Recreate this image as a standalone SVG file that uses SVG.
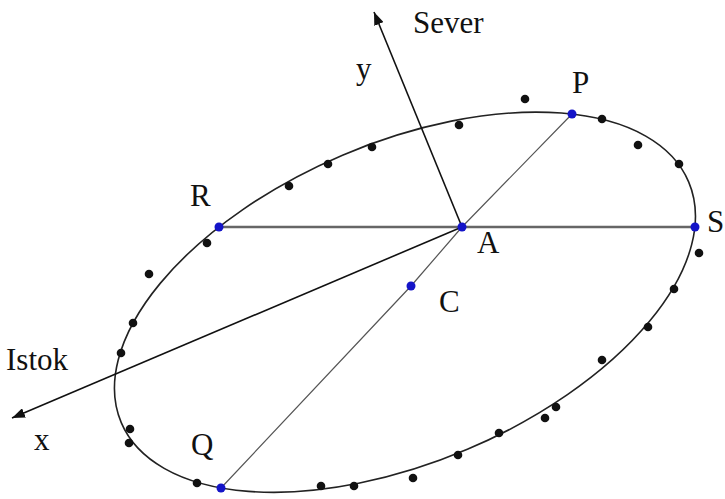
<svg xmlns="http://www.w3.org/2000/svg" width="725" height="499" viewBox="0 0 725 499">
<defs>
<style>
.lbl{font-family:"Liberation Serif","Times New Roman",serif;font-size:31px;fill:#111}
.axis{stroke:#111;stroke-width:1.6;fill:none}
.chord{stroke:#666;stroke-width:2.4;fill:none}
.diam{stroke:#555;stroke-width:1.2;fill:none}
.dot{fill:#111}
.pt{fill:#1414c8}
.curve{fill:none;stroke:#222;stroke-width:1.6}
</style>
<marker id="arr" viewBox="0 0 13 10" refX="13" refY="5" markerWidth="13" markerHeight="10" markerUnits="userSpaceOnUse" orient="auto">
<path d="M0,0 L13,5 L0,10 z" fill="#111"/>
</marker>
</defs>
<rect width="725" height="499" fill="#fff"/>
<g id="ellipse">
<ellipse class="curve" cx="404.95" cy="302.24" rx="308.2" ry="159.8" transform="rotate(-23 404.95 302.24)"/>
</g>
<g id="connectors">
<line class="chord" x1="219" y1="227" x2="695" y2="227"/>
<polyline class="diam" points="572,114 462,227 411,286 221,488"/>
<line class="axis" x1="462" y1="227" x2="12" y2="418" marker-end="url(#arr)"/>
<line class="axis" x1="462" y1="227" x2="374" y2="12" marker-end="url(#arr)"/>
</g>
<g id="samples">
<circle class="dot" cx="525" cy="99" r="4.3"/>
<circle class="dot" cx="459" cy="125" r="4.3"/>
<circle class="dot" cx="372" cy="147" r="4.3"/>
<circle class="dot" cx="328" cy="164" r="4.3"/>
<circle class="dot" cx="289" cy="186" r="4.3"/>
<circle class="dot" cx="207" cy="243" r="4.3"/>
<circle class="dot" cx="149" cy="274" r="4.3"/>
<circle class="dot" cx="133" cy="323" r="4.3"/>
<circle class="dot" cx="121" cy="353" r="4.3"/>
<circle class="dot" cx="130" cy="429" r="4.3"/>
<circle class="dot" cx="129" cy="443" r="4.3"/>
<circle class="dot" cx="197" cy="483" r="4.3"/>
<circle class="dot" cx="321" cy="486" r="4.3"/>
<circle class="dot" cx="354" cy="486" r="4.3"/>
<circle class="dot" cx="413" cy="478" r="4.3"/>
<circle class="dot" cx="458" cy="455" r="4.3"/>
<circle class="dot" cx="499" cy="433" r="4.3"/>
<circle class="dot" cx="545" cy="418" r="4.3"/>
<circle class="dot" cx="556" cy="407" r="4.3"/>
<circle class="dot" cx="602" cy="360" r="4.3"/>
<circle class="dot" cx="648" cy="327" r="4.3"/>
<circle class="dot" cx="674" cy="289" r="4.3"/>
<circle class="dot" cx="699" cy="253" r="4.3"/>
<circle class="dot" cx="679" cy="164" r="4.3"/>
<circle class="dot" cx="638" cy="145" r="4.3"/>
<circle class="dot" cx="602" cy="119" r="4.3"/>
</g>
<g id="node-A"><circle class="pt" cx="462" cy="227" r="4.5"/><text class="lbl" x="477" y="253">A</text></g>
<g id="node-P"><circle class="pt" cx="572" cy="114" r="4.5"/><text class="lbl" x="572" y="93">P</text></g>
<g id="node-Q"><circle class="pt" cx="221" cy="488" r="4.5"/><text class="lbl" x="191" y="455">Q</text></g>
<g id="node-R"><circle class="pt" cx="219" cy="227" r="4.5"/><text class="lbl" x="190" y="206">R</text></g>
<g id="node-S"><circle class="pt" cx="695" cy="227" r="4.5"/><text class="lbl" x="707" y="232">S</text></g>
<g id="node-C"><circle class="pt" cx="411" cy="286" r="4.5"/><text class="lbl" x="439" y="312">C</text></g>
<g id="label-y"><text class="lbl" x="356" y="79">y</text></g>
<g id="label-sever"><text class="lbl" x="413" y="33">Sever</text></g>
<g id="label-x"><text class="lbl" x="34" y="450">x</text></g>
<g id="label-istok"><text class="lbl" x="6" y="370">Istok</text></g>
</svg>
